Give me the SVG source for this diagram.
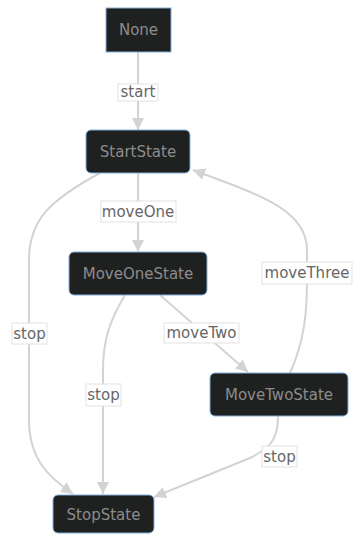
<svg xmlns="http://www.w3.org/2000/svg" width="353" height="535" viewBox="0 0 353 535">
  <style>
    .node rect { fill: #1f2020; stroke: #81b1db; stroke-width: 1; }
    .node text { fill: #8c8c8c; font-family: "DejaVu Sans", sans-serif; font-size: 15px; text-anchor: middle; }
    .edge { fill: none; stroke: #d3d3d3; stroke-width: 2; marker-end: url(#arrow); }
    .lbl rect { fill: #ffffff; stroke: #e2e2e2; stroke-width: 1; }
    .lbl text { fill: #666666; font-family: "DejaVu Sans", sans-serif; font-size: 15px; text-anchor: middle; }
  </style>
  <defs>
    <marker id="arrow" viewBox="0 0 10 10" refX="10" refY="5" markerWidth="6" markerHeight="6" orient="auto" markerUnits="strokeWidth">
      <path d="M0,0 L10,5 L0,10 z" fill="#d3d3d3"/>
    </marker>
  </defs>
  <rect width="353" height="535" fill="#ffffff"/>

  <g id="connectors">
    <path class="edge" d="M138,52 L138,130"/>
    <path class="edge" d="M138,173 L138,252"/>
    <path class="edge" d="M100,173 C50,200 29,220 29,260 L29,420 C29,460 50,478 73,494"/>
    <path class="edge" d="M125,295 C110,320 103,340 103,370 L103,494"/>
    <path class="edge" d="M160,295 L248,372"/>
    <path class="edge" d="M290,373 C305,340 307,310 307,280 L307,250 C307,210 260,195 193,170"/>
    <path class="edge" d="M278,416 C278,440 270,448 250,458 L154,497"/>

    <g class="lbl"><rect x="118" y="84" width="40" height="17"/><text x="138" y="97">start</text></g>
    <g class="lbl"><rect x="101" y="201" width="75" height="21"/><text x="138" y="217">moveOne</text></g>
    <g class="lbl"><rect x="12" y="323" width="35" height="21"/><text x="29.5" y="339">stop</text></g>
    <g class="lbl"><rect x="164" y="323" width="75" height="20"/><text x="201.5" y="338">moveTwo</text></g>
    <g class="lbl"><rect x="86" y="384" width="35" height="22"/><text x="103.5" y="400">stop</text></g>
    <g class="lbl"><rect x="262" y="262" width="90" height="22"/><text x="307" y="278">moveThree</text></g>
    <g class="lbl"><rect x="262" y="446" width="35" height="21"/><text x="279.5" y="462">stop</text></g>
  </g>

  <g id="None" class="node"><rect x="106" y="8" width="65" height="44"/><text x="138.5" y="35">None</text></g>
  <g id="StartState" class="node"><rect x="86" y="130" width="104" height="43" rx="5"/><text x="138" y="157">StartState</text></g>
  <g id="MoveOneState" class="node"><rect x="69" y="252" width="138" height="43" rx="5"/><text x="138" y="279">MoveOneState</text></g>
  <g id="MoveTwoState" class="node"><rect x="210" y="373" width="138" height="43" rx="5"/><text x="279" y="400">MoveTwoState</text></g>
  <g id="StopState" class="node"><rect x="53" y="495" width="101" height="38" rx="5"/><text x="103.5" y="519.5">StopState</text></g>
</svg>
